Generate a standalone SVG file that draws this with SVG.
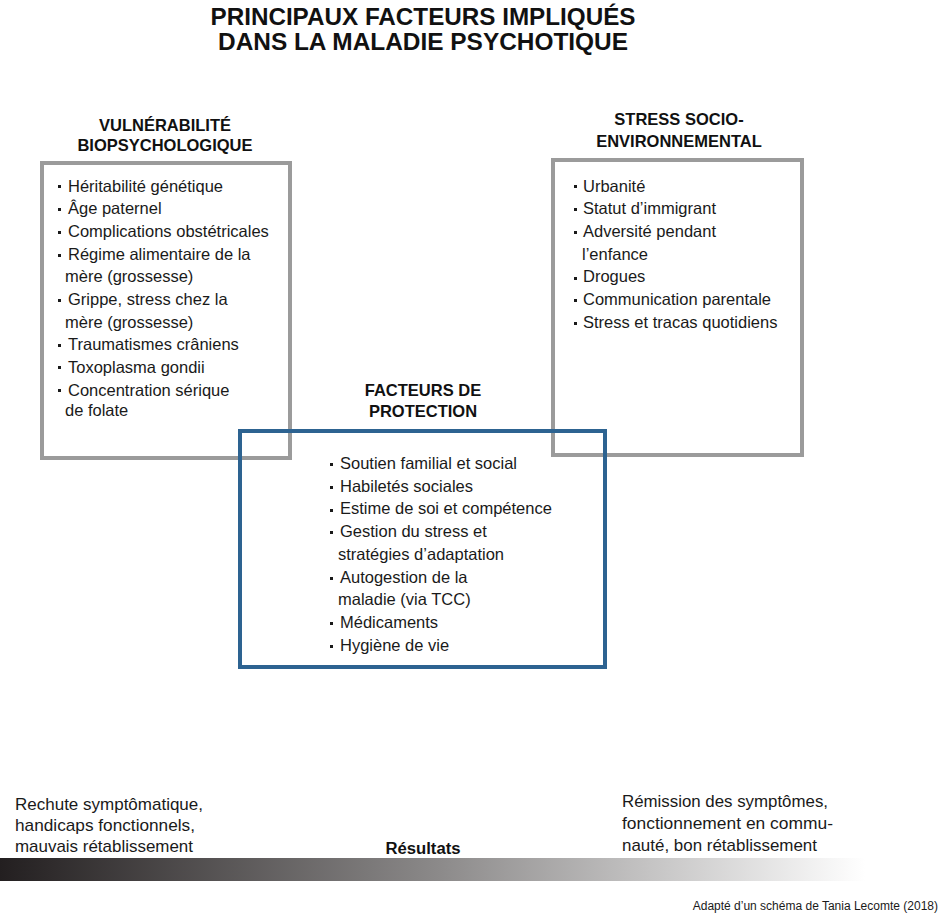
<svg xmlns="http://www.w3.org/2000/svg" width="951" height="917" viewBox="0 0 951 917">
<defs>
<linearGradient id="res" x1="0" y1="0" x2="1" y2="0">
<stop offset="0" stop-color="#231f20"/>
<stop offset="0.5" stop-color="#8a8888"/>
<stop offset="1" stop-color="#ffffff"/>
</linearGradient>
</defs>
<style>
.title{font-family:"Liberation Sans",Arial,sans-serif;font-weight:bold;font-size:23.5px;fill:#111;text-anchor:middle}
.head{font-family:"Liberation Sans",Arial,sans-serif;font-weight:bold;font-size:16.5px;fill:#111;text-anchor:middle}
.item{font-family:"Liberation Sans",Arial,sans-serif;font-size:16.5px;fill:#1a1a1a}
.bot{font-family:"Liberation Sans",Arial,sans-serif;font-size:17px;fill:#1a1a1a}
.gray{fill:none;stroke:#9b9b9b;stroke-width:4}
.blue{fill:none;stroke:#2d6391;stroke-width:4}
.bul{fill:#1a1a1a}
</style>
<rect width="951" height="917" fill="#fff"/>
<g id="title">
<text class="title" x="423" y="25" textLength="425" lengthAdjust="spacingAndGlyphs">PRINCIPAUX FACTEURS IMPLIQUÉS</text>
<text class="title" x="423" y="49.5" textLength="410" lengthAdjust="spacingAndGlyphs">DANS LA MALADIE PSYCHOTIQUE</text>
</g>
<g id="vulnerabilite">
<rect class="gray" x="42" y="163" width="248" height="295"/>
<text class="head" x="165" y="131">VULNÉRABILITÉ</text>
<text class="head" x="165" y="151">BIOPSYCHOLOGIQUE</text>
<g class="bul">
<rect x="58" y="185" width="3" height="3"/>
<rect x="58" y="208" width="3" height="3"/>
<rect x="58" y="231" width="3" height="3"/>
<rect x="58" y="254" width="3" height="3"/>
<rect x="58" y="299" width="3" height="3"/>
<rect x="58" y="344" width="3" height="3"/>
<rect x="58" y="366" width="3" height="3"/>
<rect x="58" y="389" width="3" height="3"/>
</g>
<text class="item" x="68" y="191.5">Héritabilité génétique</text>
<text class="item" x="68" y="214.2">Âge paternel</text>
<text class="item" x="68" y="236.9">Complications obstétricales</text>
<text class="item" x="68" y="259.6">Régime alimentaire de la</text>
<text class="item" x="65" y="282.3">mère (grossesse)</text>
<text class="item" x="68" y="305">Grippe, stress chez la</text>
<text class="item" x="65" y="327.7">mère (grossesse)</text>
<text class="item" x="68" y="350.4">Traumatismes crâniens</text>
<text class="item" x="68" y="373.1">Toxoplasma gondii</text>
<text class="item" x="68" y="395.8">Concentration sérique</text>
<text class="item" x="65" y="415.5">de folate</text>
</g>
<g id="stress">
<rect class="gray" x="553" y="160" width="249" height="295"/>
<text class="head" x="679" y="125">STRESS SOCIO-</text>
<text class="head" x="679" y="147">ENVIRONNEMENTAL</text>
<g class="bul">
<rect x="574" y="185" width="3" height="3"/>
<rect x="574" y="208" width="3" height="3"/>
<rect x="574" y="231" width="3" height="3"/>
<rect x="574" y="277" width="3" height="3"/>
<rect x="574" y="299" width="3" height="3"/>
<rect x="574" y="322" width="3" height="3"/>
</g>
<text class="item" x="583" y="191.5">Urbanité</text>
<text class="item" x="583" y="214.2">Statut d’immigrant</text>
<text class="item" x="583" y="236.9">Adversité pendant</text>
<text class="item" x="582" y="259.6">l’enfance</text>
<text class="item" x="583" y="282.3">Drogues</text>
<text class="item" x="583" y="305">Communication parentale</text>
<text class="item" x="583" y="327.7">Stress et tracas quotidiens</text>
</g>
<g id="protection">
<rect class="blue" x="240" y="431" width="365" height="236"/>
<text class="head" x="423" y="396">FACTEURS DE</text>
<text class="head" x="423" y="417">PROTECTION</text>
<g class="bul">
<rect x="330" y="463" width="3" height="3"/>
<rect x="330" y="486" width="3" height="3"/>
<rect x="330" y="509" width="3" height="3"/>
<rect x="330" y="531" width="3" height="3"/>
<rect x="330" y="577" width="3" height="3"/>
<rect x="330" y="622" width="3" height="3"/>
<rect x="330" y="645" width="3" height="3"/>
</g>
<text class="item" x="340" y="469">Soutien familial et social</text>
<text class="item" x="340" y="491.7">Habiletés sociales</text>
<text class="item" x="340" y="514.4">Estime de soi et compétence</text>
<text class="item" x="340" y="537.1">Gestion du stress et</text>
<text class="item" x="338" y="559.8">stratégies d’adaptation</text>
<text class="item" x="340" y="582.5">Autogestion de la</text>
<text class="item" x="338" y="605.2">maladie (via TCC)</text>
<text class="item" x="340" y="627.9">Médicaments</text>
<text class="item" x="340" y="650.6">Hygiène de vie</text>
</g>
<g id="resultats">
<rect x="0" y="858" width="865" height="23" fill="url(#res)"/>
<text class="bot" x="15" y="810" textLength="188" lengthAdjust="spacingAndGlyphs">Rechute symptômatique,</text>
<text class="bot" x="15" y="831" textLength="180" lengthAdjust="spacingAndGlyphs">handicaps fonctionnels,</text>
<text class="bot" x="15" y="852" textLength="178" lengthAdjust="spacingAndGlyphs">mauvais rétablissement</text>
<text class="bot" x="622" y="807" textLength="206" lengthAdjust="spacingAndGlyphs">Rémission des symptômes,</text>
<text class="bot" x="622" y="829" textLength="211" lengthAdjust="spacingAndGlyphs">fonctionnement en commu-</text>
<text class="bot" x="622" y="851" textLength="195" lengthAdjust="spacingAndGlyphs">nauté, bon rétablissement</text>
<text x="423" y="854" text-anchor="middle" font-family="Liberation Sans, Arial, sans-serif" font-weight="bold" font-size="16" fill="#111" textLength="75" lengthAdjust="spacingAndGlyphs">Résultats</text>
</g>
<g id="credit">
<text x="938" y="910" text-anchor="end" font-family="Liberation Sans, Arial, sans-serif" font-size="12" fill="#1a1a1a">Adapté d’un schéma de Tania Lecomte (2018)</text>
</g>
<g id="connectors"/>
</svg>
